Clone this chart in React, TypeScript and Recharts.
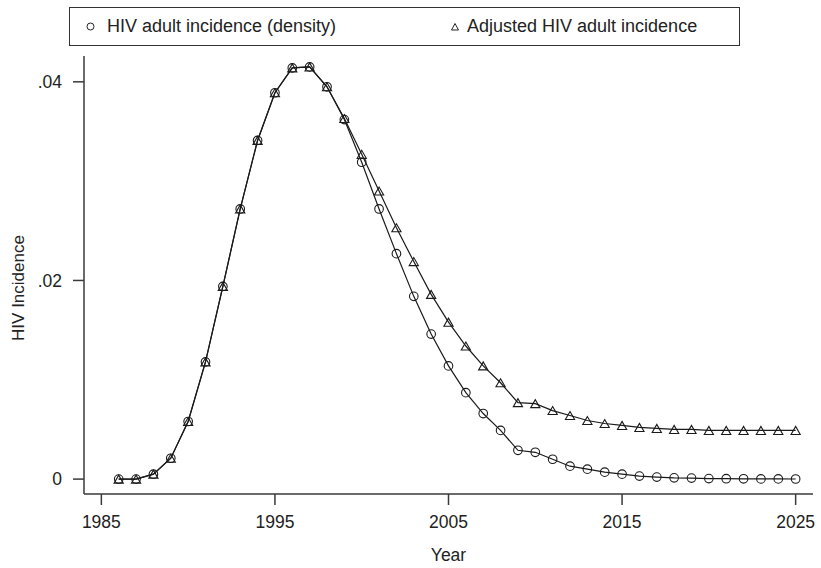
import React from "react";
import { LineChart, Line, XAxis, YAxis, Legend } from "recharts";

const years = [
  1986, 1987, 1988, 1989, 1990, 1991, 1992, 1993, 1994, 1995,
  1996, 1997, 1998, 1999, 2000, 2001, 2002, 2003, 2004, 2005,
  2006, 2007, 2008, 2009, 2010, 2011, 2012, 2013, 2014, 2015,
  2016, 2017, 2018, 2019, 2020, 2021, 2022, 2023, 2024, 2025,
];

const densityIncidence = [
  0, 0, 0.0005, 0.0021, 0.0058, 0.0118, 0.0194, 0.0272, 0.0341, 0.0389,
  0.0414, 0.0415, 0.0395, 0.0362, 0.0319, 0.0272, 0.0227, 0.0184, 0.0146, 0.0114,
  0.0087, 0.0066, 0.0049, 0.0029, 0.0027, 0.002, 0.0013, 0.001, 0.0007, 0.0005,
  0.0003, 0.0002, 0.00013, 0.0001, 0.00005, 0.00004, 0.00003, 0.00002, 0.00002, 0.00001,
];

const adjustedIncidence = [
  0, 0, 0.0005, 0.0021, 0.0058, 0.0118, 0.0194, 0.0272, 0.0341, 0.0389,
  0.0414, 0.0415, 0.0395, 0.0363, 0.0327, 0.029, 0.0253, 0.0219, 0.0186, 0.0158,
  0.0134, 0.0114, 0.0097, 0.0077, 0.0076, 0.0069, 0.0064, 0.0059, 0.0056, 0.0054,
  0.0052, 0.0051, 0.005, 0.005, 0.0049, 0.0049, 0.0049, 0.0049, 0.0049, 0.0049,
];

const xTicks = [1985, 1995, 2005, 2015, 2025];
const yTicks = [0, 0.02, 0.04];
const yTickLabels = ["0", ".02", ".04"];
const seriesNames = ["HIV adult incidence (density)", "Adjusted HIV adult incidence"];

const data = years.map((year, i) => ({
  year,
  density: densityIncidence[i],
  adjusted: adjustedIncidence[i],
}));

const FONT = '"Liberation Sans", Arial, Helvetica, sans-serif';
const INK = "#1a1a1a";
const AXIS = "#3a3a3a";

const CircleDot = (props: any) => {
  const { cx, cy, index } = props;
  if (cx == null || cy == null) return <g key={`c-${index}`} />;
  return (
    <circle key={`c-${index}`} cx={cx} cy={cy} r={4.3} fill="none" stroke={INK} strokeWidth={1.1} />
  );
};

const TriangleDot = (props: any) => {
  const { cx, cy, index } = props;
  if (cx == null || cy == null) return <g key={`t-${index}`} />;
  const w = 4.6;
  const h = 4;
  const d = `M${cx - w},${cy + h} L${cx + w},${cy + h} L${cx},${cy - h} Z`;
  return <path key={`t-${index}`} d={d} fill="none" stroke={INK} strokeWidth={1.1} />;
};

const LegendBox = () => (
  <div
    style={{
      position: "relative",
      width: 671,
      height: 39,
      boxSizing: "border-box",
      border: "1.3px solid #333",
      fontFamily: FONT,
      fontSize: 18,
      color: "#222",
      background: "#fff",
    }}
  >
    <svg width={671} height={39} style={{ position: "absolute", left: 0, top: 0 }}>
      <circle cx={20.5} cy={18.5} r={3.5} fill="none" stroke="#222" strokeWidth={1} />
      <path d="M381.5,22 L388.5,22 L385,15.5 Z" fill="none" stroke="#222" strokeWidth={1} />
    </svg>
    <span style={{ position: "absolute", left: 37, top: 7, lineHeight: "22px", whiteSpace: "nowrap" }}>
      {seriesNames[0]}
    </span>
    <span style={{ position: "absolute", left: 397, top: 7, lineHeight: "22px", whiteSpace: "nowrap" }}>
      {seriesNames[1]}
    </span>
  </div>
);

export default function App() {
  return (
    <div style={{ position: "absolute", left: 0, top: 0, width: 821, height: 568, background: "#fff" }}>
      <LineChart
        width={821}
        height={568}
        data={data}
        margin={{ top: 17, right: 8, bottom: 0, left: 0 }}
      >
        <Legend
          verticalAlign="top"
          align="left"
          content={() => <LegendBox />}
          wrapperStyle={{ top: 7, left: 69, width: 671, height: 39 }}
        />
        <XAxis
          dataKey="year"
          type="number"
          domain={[1984, 2026]}
          ticks={xTicks}
          interval={0}
          height={74}
          tickSize={11}
          tickMargin={11}
          axisLine={{ stroke: AXIS, strokeWidth: 1.5 }}
          tickLine={{ stroke: AXIS, strokeWidth: 1.5 }}
          tick={{ fill: "#222", fontSize: 17.5, fontFamily: FONT }}
          label={{
            value: "Year",
            position: "insideBottom",
            offset: 7,
            style: { fill: "#222", fontSize: 17.5, fontFamily: FONT },
          }}
        />
        <YAxis
          type="number"
          domain={[-0.0015, 0.0426]}
          ticks={yTicks}
          interval={0}
          width={84}
          tickSize={11}
          tickMargin={11}
          tickFormatter={(v: number) => yTickLabels[yTicks.indexOf(v)] ?? String(v)}
          axisLine={{ stroke: AXIS, strokeWidth: 1.5 }}
          tickLine={{ stroke: AXIS, strokeWidth: 1.5 }}
          tick={{ fill: "#222", fontSize: 17.5, fontFamily: FONT }}
          label={{
            content: () => (
              <text
                x={18}
                y={288}
                transform="rotate(-90 18 288)"
                textAnchor="middle"
                dominantBaseline="central"
                fill="#222"
                fontSize={17}
                fontFamily={FONT}
              >
                HIV Incidence
              </text>
            ),
          }}
        />
        <Line
          type="linear"
          dataKey="adjusted"
          name={seriesNames[1]}
          stroke={INK}
          strokeWidth={1.2}
          dot={TriangleDot}
          activeDot={false}
          isAnimationActive={false}
        />
        <Line
          type="linear"
          dataKey="density"
          name={seriesNames[0]}
          stroke={INK}
          strokeWidth={1.2}
          dot={CircleDot}
          activeDot={false}
          isAnimationActive={false}
        />
      </LineChart>
    </div>
  );
}
